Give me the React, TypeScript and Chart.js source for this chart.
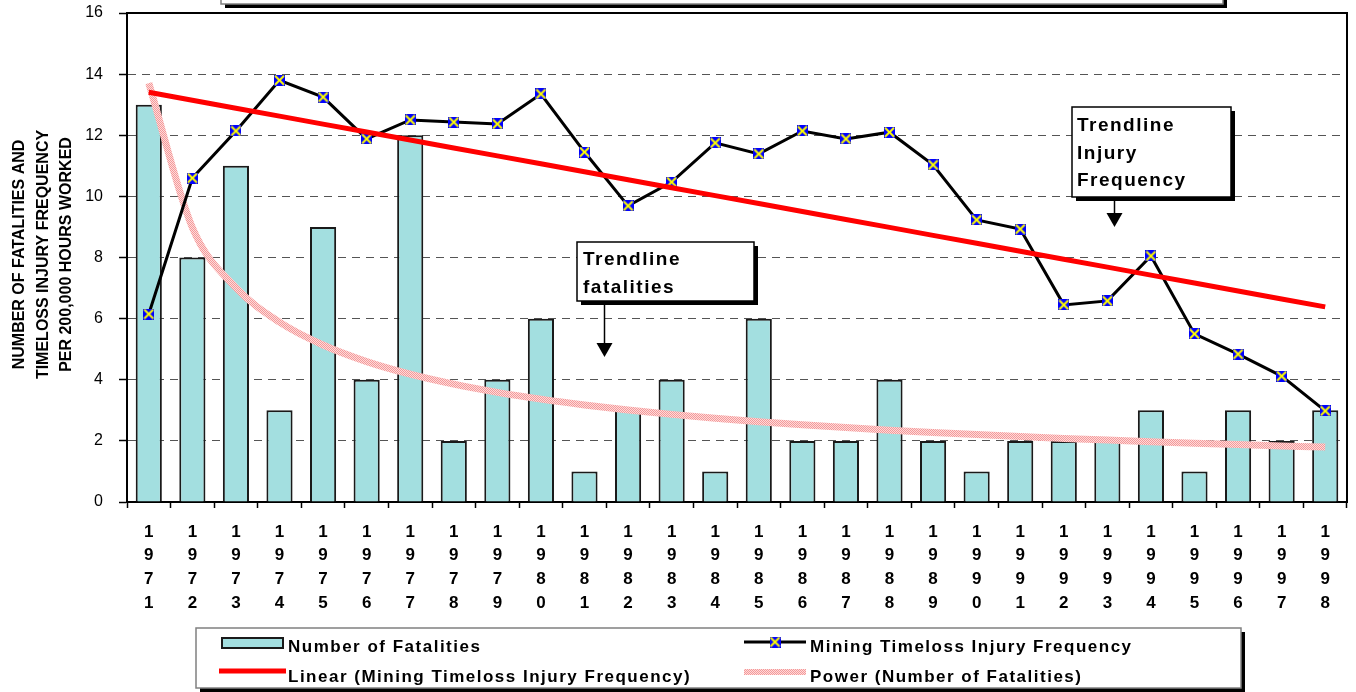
import React, { useEffect, useRef } from 'react';
import { Chart, registerables } from 'chart.js';

Chart.register(...registerables);

// ---- data ----
const years = [
  1971, 1972, 1973, 1974, 1975, 1976, 1977, 1978, 1979, 1980, 1981, 1982, 1983, 1984,
  1985, 1986, 1987, 1988, 1989, 1990, 1991, 1992, 1993, 1994, 1995, 1996, 1997, 1998,
];
// each year is printed one digit per line under its bar
const yearLabels = years.map((y) => String(y).split(''));

const fatalities = [13, 8, 11, 3, 9, 4, 12, 2, 4, 6, 1, 3, 4, 1, 6, 2, 2, 4, 2, 1, 2, 2, 2, 3, 1, 3, 2, 3];

const injuryFrequency = [
  6.15, 10.6, 12.14, 13.8, 13.25, 11.88, 12.5, 12.43, 12.37, 13.35, 11.45, 9.69, 10.47, 11.75,
  11.39, 12.14, 11.88, 12.1, 11.03, 9.23, 8.93, 6.45, 6.58, 8.05, 5.5, 4.84, 4.12, 2.98,
];

const yAxisTitle = ['NUMBER OF FATALITIES AND', 'TIMELOSS INJURY FREQUENCY', 'PER 200,000 HOURS WORKED'];
const seriesNames = [
  'Number of Fatalities',
  'Mining Timeloss Injury Frequency',
  'Linear (Mining Timeloss Injury Frequency)',
  'Power (Number of Fatalities)',
];
const noteFatalities = ['Trendline', 'fatalities'];
const noteInjury = ['Trendline', 'Injury', 'Frequency'];

const Y_MIN = 0;
const Y_MAX = 16;
const Y_STEP = 2;

// ---- styling ----
const FONT = 'Arial, "Liberation Sans", Helvetica, sans-serif';
const BAR_FILL = '#A3DFE0';
const BAR_EDGE = '#1a1a1a';
const RED = '#FF0000';

// ---- trendlines (least squares, as a spreadsheet computes them) ----
function linearTrend(values: number[]): number[] {
  const n = values.length;
  const xs = values.map((_, i) => i + 1);
  const mx = xs.reduce((s, x) => s + x, 0) / n;
  const my = values.reduce((s, y) => s + y, 0) / n;
  let sxy = 0;
  let sxx = 0;
  xs.forEach((x, i) => {
    sxy += (x - mx) * (values[i] - my);
    sxx += (x - mx) * (x - mx);
  });
  const b = sxy / sxx;
  const a = my - b * mx;
  return xs.map((x) => a + b * x);
}

function powerTrend(values: number[]): number[] {
  const n = values.length;
  const lx = values.map((_, i) => Math.log(i + 1));
  const ly = values.map((v) => Math.log(v));
  const mx = lx.reduce((s, x) => s + x, 0) / n;
  const my = ly.reduce((s, y) => s + y, 0) / n;
  let sxy = 0;
  let sxx = 0;
  lx.forEach((x, i) => {
    sxy += (x - mx) * (ly[i] - my);
    sxx += (x - mx) * (x - mx);
  });
  const b = sxy / sxx;
  const a = my - b * mx;
  return lx.map((x) => Math.exp(a + b * x));
}

// blue square with a yellow cross
function makeMarker(): HTMLCanvasElement {
  const c = document.createElement('canvas');
  c.width = 11;
  c.height = 11;
  const g = c.getContext('2d')!;
  g.fillStyle = '#0000FF';
  g.fillRect(0, 0, 11, 11);
  g.strokeStyle = '#FFFF00';
  g.lineWidth = 2;
  g.beginPath();
  g.moveTo(1, 1);
  g.lineTo(10, 10);
  g.moveTo(10, 1);
  g.lineTo(1, 10);
  g.stroke();
  return c;
}

// speckled pink texture for the power trendline
function makePinkPattern(): CanvasPattern {
  const c = document.createElement('canvas');
  c.width = 2;
  c.height = 2;
  const g = c.getContext('2d')!;
  g.fillStyle = '#FFDADA';
  g.fillRect(0, 0, 2, 2);
  g.fillStyle = '#F39A9A';
  g.fillRect(0, 0, 1, 1);
  g.fillRect(1, 1, 1, 1);
  return g.createPattern(c, 'repeat')!;
}

function shadowBox(
  ctx: CanvasRenderingContext2D,
  x: number,
  y: number,
  w: number,
  h: number,
  edge: string,
  off = 4,
) {
  ctx.fillStyle = '#000';
  ctx.fillRect(x + off, y + off, w, h);
  ctx.fillStyle = '#fff';
  ctx.fillRect(x, y, w, h);
  ctx.strokeStyle = edge;
  ctx.lineWidth = 1.5;
  ctx.strokeRect(x, y, w, h);
}

function downArrow(ctx: CanvasRenderingContext2D, x: number, y1: number, y2: number) {
  ctx.strokeStyle = '#000';
  ctx.lineWidth = 1.5;
  ctx.beginPath();
  ctx.moveTo(x, y1);
  ctx.lineTo(x, y2 - 12);
  ctx.stroke();
  ctx.fillStyle = '#000';
  ctx.beginPath();
  ctx.moveTo(x - 8, y2 - 14);
  ctx.lineTo(x + 8, y2 - 14);
  ctx.lineTo(x, y2);
  ctx.closePath();
  ctx.fill();
}

function spacedText(ctx: CanvasRenderingContext2D, text: string, x: number, y: number, spacing: string) {
  const c = ctx as any;
  c.letterSpacing = spacing;
  ctx.fillText(text, x, y);
  c.letterSpacing = '0px';
}

export default function App() {
  const canvasRef = useRef<HTMLCanvasElement | null>(null);

  useEffect(() => {
    const canvas = canvasRef.current;
    if (!canvas) return;

    const marker = makeMarker();
    const pink = makePinkPattern();
    const linearValues = linearTrend(injuryFrequency);
    const powerValues = powerTrend(fatalities);

    const decorations = {
      id: 'decorations',
      afterDraw(chart: Chart) {
        const ctx = chart.ctx;
        const { left, right, top, bottom } = chart.chartArea;
        ctx.save();

        // top and right frame of the plot
        ctx.strokeStyle = '#000';
        ctx.lineWidth = 2;
        ctx.beginPath();
        ctx.moveTo(left, top);
        ctx.lineTo(right, top);
        ctx.lineTo(right, bottom);
        ctx.stroke();

        // rotated axis title
        ctx.save();
        ctx.translate(0, (top + bottom) / 2 - 3);
        ctx.rotate(-Math.PI / 2);
        ctx.fillStyle = '#000';
        ctx.font = `bold 16px ${FONT}`;
        ctx.textAlign = 'center';
        ctx.textBaseline = 'middle';
        yAxisTitle.forEach((line, i) => ctx.fillText(line, 0, 20 + i * 23.5));
        ctx.restore();

        // heading frame at the top edge
        shadowBox(ctx, 221, -30, 1002, 34, '#808080');

        // note: fatalities trendline
        ctx.textAlign = 'left';
        ctx.textBaseline = 'alphabetic';
        shadowBox(ctx, 577, 242, 177, 59, '#000');
        ctx.fillStyle = '#000';
        ctx.font = `bold 19px ${FONT}`;
        noteFatalities.forEach((line, i) => spacedText(ctx, line, 583, 265 + i * 28, '1.5px'));
        downArrow(ctx, 604.5, 301, 357);

        // note: injury frequency trendline
        shadowBox(ctx, 1072, 107, 159, 90, '#000');
        ctx.fillStyle = '#000';
        ctx.font = `bold 19px ${FONT}`;
        noteInjury.forEach((line, i) => spacedText(ctx, line, 1077, 131 + i * 27.5, '1.5px'));
        downArrow(ctx, 1114.5, 197, 227);

        // legend
        shadowBox(ctx, 196, 628, 1045, 60, '#808080');
        ctx.fillStyle = BAR_FILL;
        ctx.fillRect(222, 638, 61, 10);
        ctx.strokeStyle = BAR_EDGE;
        ctx.lineWidth = 2;
        ctx.strokeRect(222, 638, 61, 10);

        ctx.strokeStyle = RED;
        ctx.lineWidth = 5;
        ctx.beginPath();
        ctx.moveTo(219, 671);
        ctx.lineTo(286, 671);
        ctx.stroke();

        ctx.strokeStyle = '#000';
        ctx.lineWidth = 3;
        ctx.beginPath();
        ctx.moveTo(744, 642);
        ctx.lineTo(806, 642);
        ctx.stroke();
        ctx.drawImage(marker, 775 - 5.5, 642 - 5.5);

        ctx.strokeStyle = pink;
        ctx.lineWidth = 6;
        ctx.beginPath();
        ctx.moveTo(744, 672);
        ctx.lineTo(806, 672);
        ctx.stroke();

        ctx.fillStyle = '#000';
        ctx.font = `bold 17px ${FONT}`;
        spacedText(ctx, seriesNames[0], 288, 652, '1.5px');
        spacedText(ctx, seriesNames[1], 810, 652, '1.5px');
        spacedText(ctx, seriesNames[2], 288, 682, '1.5px');
        spacedText(ctx, seriesNames[3], 810, 682, '1.5px');

        ctx.restore();
      },
    };

    const chart = new Chart(canvas, {
      type: 'bar',
      data: {
        labels: yearLabels,
        datasets: [
          {
            type: 'bar',
            label: seriesNames[0],
            data: fatalities,
            backgroundColor: BAR_FILL,
            borderColor: BAR_EDGE,
            borderWidth: 2,
            barPercentage: 0.6,
            categoryPercentage: 1,
            order: 4,
          },
          {
            type: 'line',
            label: seriesNames[1],
            data: injuryFrequency,
            borderColor: '#000',
            borderWidth: 3,
            pointStyle: marker,
            pointRadius: 6,
            tension: 0,
            order: 2,
          },
          {
            type: 'line',
            label: seriesNames[2],
            data: linearValues,
            borderColor: RED,
            borderWidth: 5,
            pointRadius: 0,
            order: 1,
          },
          {
            type: 'line',
            label: seriesNames[3],
            data: powerValues,
            borderColor: pink as any,
            borderWidth: 7,
            pointRadius: 0,
            cubicInterpolationMode: 'monotone',
            order: 3,
          },
        ],
      },
      options: {
        responsive: false,
        animation: false,
        devicePixelRatio: 1,
        layout: { padding: { left: 0, top: 13, right: 6, bottom: 0 } },
        plugins: {
          legend: { display: false },
          tooltip: { enabled: false },
          title: { display: false },
        },
        scales: {
          x: {
            ticks: {
              color: '#000',
              font: { family: FONT, size: 17, weight: 'bold', lineHeight: 1.4 },
              padding: 12,
              autoSkip: false,
              maxRotation: 0,
            },
            grid: {
              offset: true,
              drawOnChartArea: false,
              tickLength: 6,
              tickColor: '#000',
              tickWidth: 1.5,
            },
            border: { color: '#000', width: 2 },
            afterFit: (scale: any) => {
              scale.height = 190;
              scale.paddingLeft = 0;
              scale.paddingRight = 0;
            },
          },
          y: {
            min: Y_MIN,
            max: Y_MAX,
            ticks: {
              stepSize: Y_STEP,
              color: '#000',
              font: { family: FONT, size: 16 },
              padding: 16,
            },
            grid: {
              color: '#555',
              lineWidth: 1,
              tickLength: 8,
              tickColor: '#000',
              tickWidth: 1.5,
            },
            border: { color: '#000', width: 2, dash: [8, 6] },
            afterFit: (scale: any) => {
              scale.width = 127;
              scale.paddingTop = 0;
              scale.paddingBottom = 0;
            },
          },
        },
      },
      plugins: [decorations],
    });

    return () => chart.destroy();
  }, []);

  return (
    <div style={{ position: 'fixed', left: 0, top: 0, width: 1356, height: 692, background: '#fff' }}>
      <canvas ref={canvasRef} width={1356} height={692} style={{ display: 'block', width: 1356, height: 692 }} />
    </div>
  );
}
